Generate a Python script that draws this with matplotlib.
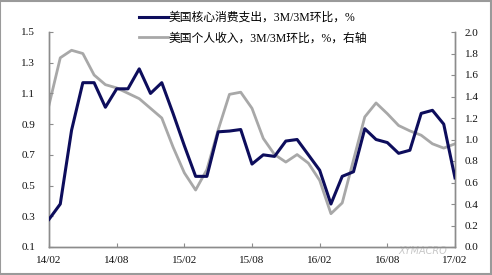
import matplotlib
matplotlib.use("Agg")
import matplotlib.pyplot as plt
from matplotlib.patches import Rectangle

plt.rcParams['font.family'] = ['Liberation Serif', 'Noto Sans CJK SC', 'DejaVu Sans']

months = ["14/02","14/03","14/04","14/05","14/06","14/07","14/08","14/09","14/10","14/11","14/12",
          "15/01","15/02","15/03","15/04","15/05","15/06","15/07","15/08","15/09","15/10","15/11","15/12",
          "16/01","16/02","16/03","16/04","16/05","16/06","16/07","16/08","16/09","16/10","16/11","16/12",
          "17/01","17/02"]
core_pce = [0.28, 0.38, 0.86, 1.17, 1.17, 1.01, 1.13, 1.13, 1.26, 1.10, 1.17,
            0.97, 0.76, 0.56, 0.56, 0.85, 0.855, 0.865, 0.64, 0.70, 0.69, 0.79, 0.80,
            0.70, 0.60, 0.38, 0.56, 0.59, 0.87, 0.80, 0.78, 0.71, 0.73, 0.97, 0.99,
            0.90, 0.55]
income = [1.32, 1.76, 1.83, 1.80, 1.60, 1.51, 1.48, 1.43, 1.38, 1.29, 1.20,
          0.93, 0.69, 0.53, 0.72, 1.09, 1.42, 1.44, 1.29, 1.01, 0.86, 0.79, 0.86,
          0.78, 0.62, 0.31, 0.41, 0.81, 1.21, 1.34, 1.24, 1.13, 1.08, 1.04, 0.96,
          0.92, 0.96]
label_pce = "美国核心消费支出，3M/3M环比，%"
label_inc = "美国个人收入，3M/3M环比，%，右轴"
left_ticks = [0.1, 0.3, 0.5, 0.7, 0.9, 1.1, 1.3, 1.5]
right_ticks = [0.0, 0.2, 0.4, 0.6, 0.8, 1.0, 1.2, 1.4, 1.6, 1.8, 2.0]
xtick_idx = [0, 6, 12, 18, 24, 30, 36]

navy = "#0d0d5c"
gray = "#a8a8a8"
spine_c = "#8c8c8c"

fig = plt.figure(figsize=(4.92, 2.75), dpi=100)
ax = fig.add_axes([49/492, 1-247/275, (455-49)/492, (247-32)/275])
ax2 = ax.twinx()

x = list(range(len(months)))
l1, = ax.plot(x, core_pce, color=navy, lw=2.2, zorder=3)
l2, = ax2.plot(x, income, color=gray, lw=2.0, zorder=2)
ax.set_zorder(ax2.get_zorder() + 1)
ax.patch.set_visible(False)

ax.set_xlim(0, 36)
ax.set_ylim(0.1, 1.5)
ax2.set_ylim(0.0, 2.0)
ax.set_yticks(left_ticks)
ax.set_yticklabels([f"{v:.1f}" for v in left_ticks])
ax2.set_yticks(right_ticks)
ax2.set_yticklabels([f"{v:.1f}" for v in right_ticks])
ax.set_xticks(xtick_idx)
ax.set_xticklabels([months[i] for i in xtick_idx])

for a in (ax, ax2):
    for s in a.spines.values():
        s.set_color(spine_c)
        s.set_linewidth(1.0)
    a.spines['top'].set_visible(False)
    a.tick_params(direction='in', length=3, color=spine_c, labelsize=8, labelcolor='#111111')
ax.tick_params(axis='y', pad=10)
ax2.tick_params(axis='y', pad=7)
ax.tick_params(axis='x', pad=6.5)

fig.legend([l1, l2], [label_pce, label_inc], loc='upper left',
           bbox_to_anchor=(133/492, 1-6/275), frameon=False, borderpad=0,
           handlelength=2.45, handletextpad=0.1, labelspacing=0.7, fontsize=8.5)

fig.text(423/492, 1-251/275, "XYMACRO", color="#c8c8c8", fontsize=7, style='italic',
         family=['DejaVu Sans'], ha='center', va='center', zorder=0)

fig.patches.append(Rectangle((0.001, 0.002), 0.997, 0.995, transform=fig.transFigure,
                             fill=False, edgecolor="#9a9a9a", lw=1.5))

fig.savefig("out.png", dpi=100)
